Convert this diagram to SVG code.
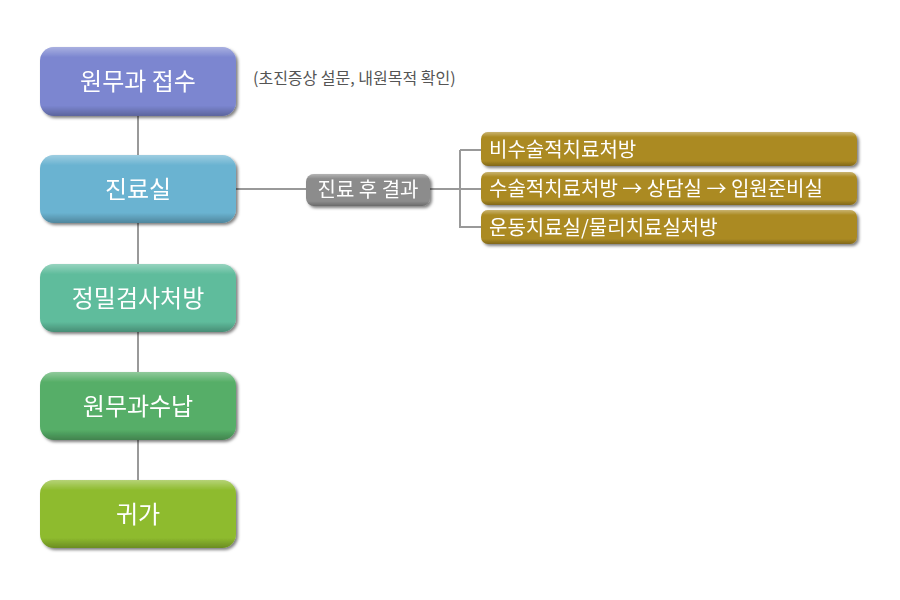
<svg xmlns="http://www.w3.org/2000/svg" width="900" height="600" viewBox="0 0 900 600">
<style>
text{font-family:"Noto Sans CJK KR","Noto Sans",sans-serif;fill:#fff}
.m{font-size:24px;text-anchor:middle}
.g{font-size:20px}
.c{stroke:#999;stroke-width:2;fill:none}
</style>
<defs>
<linearGradient id="hl" x1="0" y1="0" x2="0" y2="1"><stop offset="0" stop-color="#fff" stop-opacity="0.35"/><stop offset="0.15" stop-color="#fff" stop-opacity="0"/><stop offset="0.85" stop-color="#000" stop-opacity="0"/><stop offset="1" stop-color="#000" stop-opacity="0.25"/></linearGradient>
<filter id="sh" x="-5%" y="-10%" width="115%" height="130%"><feDropShadow dx="2" dy="2" stdDeviation="1.5" flood-color="#000" flood-opacity="0.5"/></filter>
</defs>
<g id="connectors">
<path class="c" d="M138 116V155M138 223V264M138 332V372M138 440V480M236 189H306M430 189H481M460 150H481M460 150V227H481"/>
</g>
<g id="n1" filter="url(#sh)"><rect x="40" y="47" width="196" height="69" rx="14" fill="#7b86d0"/><rect x="40" y="47" width="196" height="69" rx="14" fill="url(#hl)"/><text class="m" x="138" y="90">원무과 접수</text></g>
<text x="253" y="84" style="font-size:16px;fill:#555">(초진증상 설문, 내원목적 확인)</text>
<g id="n2" filter="url(#sh)"><rect x="40" y="155" width="196" height="68" rx="14" fill="#6ab3d1"/><rect x="40" y="155" width="196" height="68" rx="14" fill="url(#hl)"/><text class="m" x="138" y="198">진료실</text></g>
<g id="n3" filter="url(#sh)"><rect x="40" y="264" width="196" height="68" rx="14" fill="#5fbc9c"/><rect x="40" y="264" width="196" height="68" rx="14" fill="url(#hl)"/><text class="m" x="138" y="307">정밀검사처방</text></g>
<g id="n4" filter="url(#sh)"><rect x="40" y="372" width="196" height="68" rx="14" fill="#56ae67"/><rect x="40" y="372" width="196" height="68" rx="14" fill="url(#hl)"/><text class="m" x="138" y="415">원무과수납</text></g>
<g id="n5" filter="url(#sh)"><rect x="40" y="480" width="196" height="68" rx="14" fill="#8ebb2e"/><rect x="40" y="480" width="196" height="68" rx="14" fill="url(#hl)"/><text class="m" x="138" y="523">귀가</text></g>
<g id="lbl" filter="url(#sh)"><rect x="306" y="174" width="124" height="32" rx="8" fill="#8c8c8c"/><rect x="306" y="174" width="124" height="32" rx="8" fill="url(#hl)"/><text class="g" x="368" y="197" text-anchor="middle">진료 후 결과</text></g>
<g id="r1" filter="url(#sh)"><rect x="481" y="132" width="376" height="34" rx="7" fill="#ab8a22"/><rect x="481" y="132" width="376" height="34" rx="7" fill="url(#hl)"/><text class="g" x="489" y="157">비수술적치료처방</text></g>
<g id="r2" filter="url(#sh)"><rect x="481" y="172" width="376" height="33" rx="7" fill="#ab8a22"/><rect x="481" y="172" width="376" height="33" rx="7" fill="url(#hl)"/><text class="g" x="489" y="196">수술적치료처방 → 상담실 → 입원준비실</text></g>
<g id="r3" filter="url(#sh)"><rect x="481" y="210" width="376" height="34" rx="7" fill="#ab8a22"/><rect x="481" y="210" width="376" height="34" rx="7" fill="url(#hl)"/><text class="g" x="489" y="235">운동치료실/물리치료실처방</text></g>
</svg>
